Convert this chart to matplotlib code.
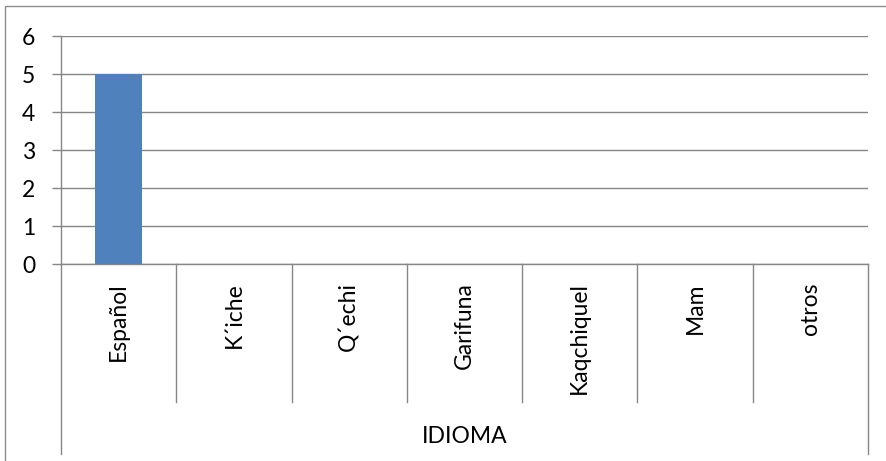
import matplotlib
matplotlib.use("Agg")
import matplotlib.pyplot as plt
from matplotlib.patches import Rectangle
import matplotlib.transforms as mtransforms

categories = ["Español", "K´iche", "Q´echi", "Garifuna", "Kaqchiquel", "Mam", "otros"]
values = [5, 0, 0, 0, 0, 0, 0]
yticks = [0, 1, 2, 3, 4, 5, 6]
axis_title = "IDIOMA"

W, H = 887, 461
plt.rcParams['font.family'] = ['Lato', 'DejaVu Sans']
fig = plt.figure(figsize=(W / 100, H / 100), dpi=100)

GRAY = "#868686"
FS = 16.5
left, right, top, bottom = 61, 868, 36, 264
ax = fig.add_axes([left / W, 1 - bottom / H, (right - left) / W, (bottom - top) / H])

x = list(range(len(categories)))
ax.bar(x, values, width=0.41, color="#4F81BD", zorder=3)
ax.set_xlim(-0.5, len(categories) - 0.5)
ax.set_ylim(0, 6)

for s in ["top", "right"]:
    ax.spines[s].set_visible(False)
for s in ["left", "bottom"]:
    ax.spines[s].set_color(GRAY)
    ax.spines[s].set_linewidth(1.0)

ax.set_yticks(yticks)
ax.set_yticklabels([str(v) for v in yticks])
ax.yaxis.grid(True, color=GRAY, linewidth=1.0, zorder=0)
ax.tick_params(axis="y", length=6.5, width=1.0, color=GRAY, pad=12, labelsize=FS, labelcolor="black")

ax.set_xticks(x)
ax.set_xticklabels(categories, rotation=90)
ax.tick_params(axis="x", length=0, pad=13, labelsize=FS, labelcolor="black")

# category separators
trans = mtransforms.blended_transform_factory(ax.transData, fig.transFigure)
y0 = 1 - bottom / H
for k in range(len(categories) + 1):
    xe = k - 0.5
    yend = 454 if k in (0, len(categories)) else 402
    ax.plot([xe, xe], [y0, 1 - yend / H], color=GRAY, linewidth=1.0,
            transform=trans, clip_on=False, zorder=1)

fig.text((left + right) / 2 / W, 1 - 436 / H, axis_title, ha="center", va="center", fontsize=FS)

# outer chart border (extends beyond right/bottom of image)
fig.patches.append(Rectangle((5 / W, -0.1), 1.2, 1 - 6 / H + 0.1, transform=fig.transFigure,
                             fill=False, edgecolor="#8c8c8c", linewidth=1.0))

fig.savefig("out.png", dpi=100)
